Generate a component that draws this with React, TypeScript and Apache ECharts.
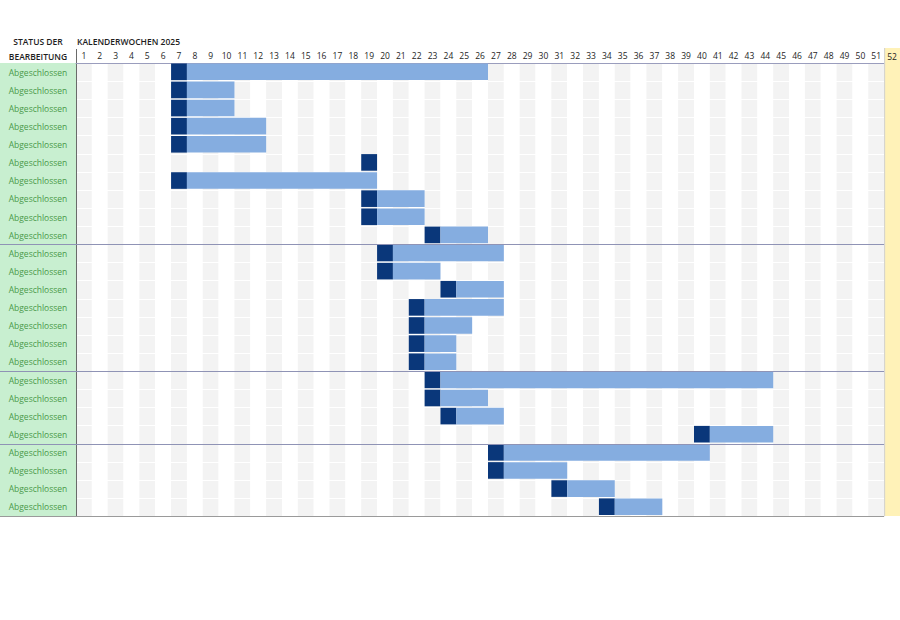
import React, { useEffect, useRef } from "react";
import * as echarts from "echarts";

const weekLabels = [
  "1","2","3","4","5","6","7","8","9","10","11","12","13",
  "14","15","16","17","18","19","20","21","22","23","24","25","26",
  "27","28","29","30","31","32","33","34","35","36","37","38","39",
  "40","41","42","43","44","45","46","47","48","49","50","51","52",
];
const statusLabels = [
  "Abgeschlossen","Abgeschlossen","Abgeschlossen","Abgeschlossen","Abgeschlossen",
  "Abgeschlossen","Abgeschlossen","Abgeschlossen","Abgeschlossen","Abgeschlossen",
  "Abgeschlossen","Abgeschlossen","Abgeschlossen","Abgeschlossen","Abgeschlossen",
  "Abgeschlossen","Abgeschlossen","Abgeschlossen","Abgeschlossen","Abgeschlossen",
  "Abgeschlossen","Abgeschlossen","Abgeschlossen","Abgeschlossen","Abgeschlossen",
];
const startWeeks = [7, 7, 7, 7, 7, 19, 7, 19, 19, 23, 20, 20, 24, 22, 22, 22, 22, 23, 23, 24, 40, 27, 27, 31, 34];
const endWeeks = [26, 10, 10, 12, 12, 19, 19, 22, 22, 26, 27, 23, 27, 27, 25, 24, 24, 44, 26, 27, 44, 40, 31, 34, 37];
const groupEndRows = [10, 17, 21];

const DARK = "#0a377a";
const LIGHT = "#85ade0";
const GREEN_BG = "#c8efd0";
const GREEN_TXT = "#4a9a4a";
const YELLOW = "#fff2b8";
const FONT = "'Open Sans', 'Noto Sans', sans-serif";

export default function App() {
  const ref = useRef<HTMLDivElement>(null);
  useEffect(() => {
    if (!ref.current) return;
    const chart = echarts.init(ref.current, undefined, { renderer: "svg" });
    const barData = startWeeks.map((s, i) => [i, s - 1, endWeeks[i] - 1]);
    const option: any = {
      animation: false,
      backgroundColor: "#ffffff",
      grid: { left: 76, right: 0, top: 63, bottom: 104, containLabel: false },
      xAxis: {
        type: "category",
        position: "top",
        data: weekLabels,
        boundaryGap: true,
        axisLine: { show: true, lineStyle: { color: "#9a9dbd", width: 1 } },
        axisTick: { show: false },
        axisLabel: {
          interval: 0,
          margin: 3,
          fontSize: 8.5,
          color: "#1e1e1e",
          fontFamily: FONT,
          fontWeight: 500,
        },
        splitLine: { show: false },
        splitArea: { show: true, interval: 0, areaStyle: { color: ["#f3f3f3", "#ffffff"] } },
      },
      yAxis: {
        type: "category",
        inverse: true,
        data: statusLabels,
        boundaryGap: true,
        axisLine: { show: true, lineStyle: { color: "#6a6a6a", width: 1 } },
        axisTick: { show: false },
        axisLabel: {
          interval: 0,
          align: "center",
          margin: 38,
          fontSize: 8.5,
          color: GREEN_TXT,
          fontFamily: FONT,
        },
        splitLine: { show: false },
      },
      series: [
        {
          type: "custom",
          z: 1,
          encode: { y: 0 },
          data: statusLabels.map((_, i) => [i]),
          renderItem: (params: any, api: any) => {
            const row = api.value(0);
            const size = api.size([1, 1]);
            const p = api.coord([0, row]);
            const y = Math.round(p[1] + size[1] / 2) + 0.5;
            const cs = params.coordSys;
            return {
              type: "line",
              shape: { x1: cs.x + 1, y1: y, x2: cs.x + cs.width, y2: y },
              style: { stroke: "#ffffff", lineWidth: 1 },
            };
          },
        },
        {
          type: "custom",
          z: 3,
          encode: { x: [1, 2], y: 0 },
          data: barData,
          renderItem: (params: any, api: any) => {
            const row = api.value(0);
            const s = api.value(1);
            const e = api.value(2);
            const size = api.size([1, 1]);
            const cw = size[0];
            const ch = size[1];
            const ps = api.coord([s, row]);
            const pe = api.coord([e, row]);
            const left = ps[0] - cw / 2;
            const top = ps[1] - ch / 2 + 0.5;
            const h = ch - 1.5;
            const children: any[] = [
              { type: "rect", shape: { x: left, y: top, width: cw, height: h }, style: { fill: DARK } },
            ];
            if (e > s) {
              children.push({
                type: "rect",
                shape: { x: left + cw, y: top, width: pe[0] + cw / 2 - (left + cw), height: h },
                style: { fill: LIGHT },
              });
            }
            return { type: "group", children };
          },
        },
        {
          type: "custom",
          z: 4,
          encode: { y: 0 },
          data: groupEndRows.map((r) => [r - 1]),
          renderItem: (params: any, api: any) => {
            const row = api.value(0);
            const size = api.size([1, 1]);
            const p = api.coord([0, row]);
            const y = Math.round(p[1] + size[1] / 2) + 0.5;
            const cs = params.coordSys;
            return {
              type: "line",
              shape: { x1: 0, y1: y, x2: cs.x + cs.width, y2: y },
              style: { stroke: "#8f93b5", lineWidth: 1 },
            };
          },
        },
      ],
    };
    chart.setOption(option);

    const x52 = chart.convertToPixel({ xAxisIndex: 0 }, "52") as number;
    const x51 = chart.convertToPixel({ xAxisIndex: 0 }, "51") as number;
    const colW = x52 - x51;
    const yFirst = chart.convertToPixel({ yAxisIndex: 0 }, 0) as number;
    const yLast = chart.convertToPixel({ yAxisIndex: 0 }, statusLabels.length - 1) as number;
    const rowH = statusLabels.length > 1 ? (yLast - yFirst) / (statusLabels.length - 1) : 18;
    const gridTop = yFirst - rowH / 2;
    const gridBottom = yLast + rowH / 2;
    const gridLeft = x51 - colW / 2 - 50 * colW;
    const yellowLeft = x52 - colW / 2;

    chart.setOption({
      graphic: [
        {
          type: "rect",
          z: -5,
          shape: { x: 0, y: gridTop, width: gridLeft, height: gridBottom - gridTop },
          style: { fill: GREEN_BG },
          silent: true,
        },
        {
          type: "rect",
          z: 10,
          shape: { x: yellowLeft, y: 48, width: 900 - yellowLeft, height: gridBottom - 48 },
          style: { fill: YELLOW },
          silent: true,
        },
        {
          type: "line",
          z: 11,
          shape: { x1: yellowLeft + 0.5, y1: 48, x2: yellowLeft + 0.5, y2: gridBottom },
          style: { stroke: "#d0d0d0", lineWidth: 1 },
          silent: true,
        },
        {
          type: "text",
          z: 12,
          style: {
            text: "52",
            x: x52,
            y: 56,
            align: "center",
            verticalAlign: "middle",
            fontSize: 8.5,
            fontWeight: 500,
            fontFamily: FONT,
            fill: "#1e1e1e",
          },
        },
        {
          type: "line",
          z: 11,
          shape: { x1: Math.round(gridLeft) + 0.5, y1: 49, x2: Math.round(gridLeft) + 0.5, y2: gridTop },
          style: { stroke: "#6a6a6a", lineWidth: 1 },
          silent: true,
        },
        {
          type: "line",
          z: 11,
          shape: { x1: 0, y1: Math.round(gridBottom) + 0.5, x2: yellowLeft, y2: Math.round(gridBottom) + 0.5 },
          style: { stroke: "#9a9a9a", lineWidth: 1 },
          silent: true,
        },
        {
          type: "text",
          z: 12,
          style: {
            text: "STATUS DER",
            x: gridLeft / 2,
            y: 41,
            align: "center",
            verticalAlign: "middle",
            fontSize: 8.5,
            fontWeight: 600,
            fontFamily: FONT,
            fill: "#1e1e1e",
          },
        },
        {
          type: "text",
          z: 12,
          style: {
            text: "BEARBEITUNG",
            x: gridLeft / 2,
            y: 56,
            align: "center",
            verticalAlign: "middle",
            fontSize: 8.5,
            fontWeight: 600,
            fontFamily: FONT,
            fill: "#1e1e1e",
          },
        },
        {
          type: "text",
          z: 12,
          style: {
            text: "KALENDERWOCHEN 2025",
            x: gridLeft + 1,
            y: 41,
            align: "left",
            verticalAlign: "middle",
            fontSize: 8.5,
            fontWeight: 600,
            fontFamily: FONT,
            fill: "#1e1e1e",
          },
        },
      ],
    });
    return () => chart.dispose();
  }, []);
  return (
    <div
      ref={ref}
      style={{ position: "absolute", left: 0, top: 0, width: 900, height: 620 }}
    />
  );
}
